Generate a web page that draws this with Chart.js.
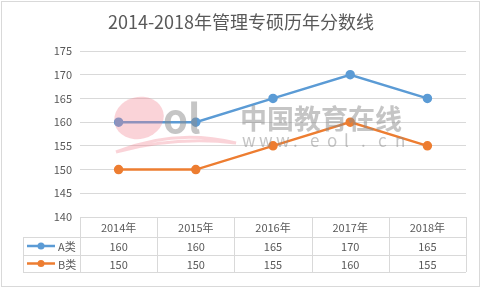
<!DOCTYPE html>
<html>
<head>
<meta charset="utf-8">
<script src="https://cdn.jsdelivr.net/npm/chart.js@4.4.0/dist/chart.umd.min.js"></script>
<style>
  html, body { margin: 0; padding: 0; background: #fff; }
  #wrap { width: 481px; height: 289px; }
</style>
</head>
<body>
<div id="wrap"><canvas id="chart" width="481" height="289"></canvas></div>
<script>
// data
var years = ["2014年", "2015年", "2016年", "2017年", "2018年"];
var seriesA = [160, 160, 165, 170, 165];
var seriesB = [150, 150, 155, 160, 155];
var seriesNames = ["A类", "B类"];
var chartTitleText = "2014-2018年管理专硕历年分数线";

var blue = "#5b9bd5";
var orange = "#ed7d31";
var textGray = "#595959";
var lineGray = "#d9d9d9";
var fontFam = "'Noto Sans CJK SC', 'Open Sans', sans-serif";

// title centred on the whole picture
var topTitle = {
  id: 'topTitle',
  afterDraw: function(chart) {
    var ctx = chart.ctx;
    ctx.save();
    ctx.fillStyle = textGray;
    ctx.font = "18px " + fontFam;
    ctx.textAlign = "center";
    ctx.textBaseline = "middle";
    ctx.fillText(chartTitleText, 241, 22);
    ctx.restore();
  }
};

// watermark drawn over the lines, semi transparent
var watermark = {
  id: 'watermark',
  afterDatasetsDraw: function(chart) {
    var ctx = chart.ctx;
    ctx.save();
    ctx.globalAlpha = 0.35;
    ctx.fillStyle = "#f08090";
    ctx.beginPath();
    ctx.ellipse(139, 118, 25, 21, -0.25, 0, Math.PI * 2);
    ctx.fill();
    ctx.beginPath();
    ctx.moveTo(116, 152);
    ctx.quadraticCurveTo(175, 128, 236, 143);
    ctx.quadraticCurveTo(175, 136, 116, 152);
    ctx.lineWidth = 3;
    ctx.strokeStyle = "#f08090";
    ctx.stroke();
    ctx.globalAlpha = 0.5;
    ctx.fillStyle = "#8c8c8c";
    ctx.font = "bold 40px " + fontFam;
    ctx.textBaseline = "middle";
    ctx.fillText("ol", 163, 118);
    ctx.font = "bold 27px " + fontFam;
    ctx.fillText("中国教育在线", 240, 119);
    ctx.font = "17px " + fontFam;
    var w = "www.eol.cn";
    for (var i = 0; i < w.length; i++) {
      ctx.fillText(w[i], 242 + i * 17, 141);
    }
    ctx.restore();
  }
};

// data table under the plot plus outer frame
var dataTable = {
  id: 'dataTable',
  afterDraw: function(chart) {
    var ctx = chart.ctx;
    var xs = chart.scales.x;
    var area = chart.chartArea;
    var n = years.length;
    var colW = (area.right - area.left) / n;
    var left = 23, top = Math.round(area.bottom), r1 = top + 20, r2 = r1 + 18, bot = r2 + 17;
    ctx.save();
    ctx.strokeStyle = lineGray;
    ctx.lineWidth = 1;
    ctx.beginPath();
    ctx.moveTo(area.left, top + 0.5); ctx.lineTo(area.right, top + 0.5);
    ctx.moveTo(left, r1 + 0.5); ctx.lineTo(area.right, r1 + 0.5);
    ctx.moveTo(left, r2 + 0.5); ctx.lineTo(area.right, r2 + 0.5);
    ctx.moveTo(left, bot + 0.5); ctx.lineTo(area.right, bot + 0.5);
    ctx.moveTo(left + 0.5, r1); ctx.lineTo(left + 0.5, bot);
    for (var i = 0; i <= n; i++) {
      var x = Math.round(area.left + i * colW) + 0.5;
      ctx.moveTo(x, top); ctx.lineTo(x, bot);
    }
    ctx.stroke();

    ctx.fillStyle = textGray;
    ctx.font = "11px " + fontFam;
    ctx.textAlign = "center";
    ctx.textBaseline = "middle";
    var rows = [seriesA, seriesB];
    for (var j = 0; j < n; j++) {
      var cx = xs.getPixelForValue(j);
      ctx.fillText(years[j], cx, (top + r1) / 2 + 1);
      ctx.fillText(String(rows[0][j]), cx, (r1 + r2) / 2 + 1);
      ctx.fillText(String(rows[1][j]), cx, (r2 + bot) / 2 + 1);
    }
    var colors = [blue, orange];
    var ys = [(r1 + r2) / 2, (r2 + bot) / 2];
    for (var k = 0; k < 2; k++) {
      ctx.strokeStyle = colors[k];
      ctx.lineWidth = 2.5;
      ctx.beginPath();
      ctx.moveTo(27, ys[k]); ctx.lineTo(55, ys[k]);
      ctx.stroke();
      ctx.fillStyle = colors[k];
      ctx.beginPath();
      ctx.arc(41, ys[k], 3.5, 0, Math.PI * 2);
      ctx.fill();
      ctx.fillStyle = textGray;
      ctx.textAlign = "left";
      ctx.fillText(seriesNames[k], 58, ys[k] + 1);
    }

    ctx.strokeStyle = lineGray;
    ctx.lineWidth = 1;
    ctx.strokeRect(1.5, 1.5, 478, 285);
    ctx.restore();
  }
};

window.onload = function() {
  var ctx = document.getElementById('chart').getContext('2d');
  window.lineChart = new Chart(ctx, {
    type: 'line',
    data: {
      labels: years,
      datasets: [{
        label: seriesNames[0],
        data: seriesA,
        borderColor: blue,
        backgroundColor: blue,
        borderWidth: 2.5,
        pointRadius: 3.5,
        tension: 0
      },
      {
        label: seriesNames[1],
        data: seriesB,
        borderColor: orange,
        backgroundColor: orange,
        borderWidth: 2.5,
        pointRadius: 3.5,
        tension: 0
      }]
    },
    plugins: [watermark, dataTable, topTitle],
    options: {
      responsive: false,
      animation: false,
      layout: {
        padding: { left: 0, right: 15, top: 51, bottom: 72 }
      },
      plugins: {
        legend: { display: false },
        tooltip: { enabled: false },
        title: { display: false }
      },
      scales: {
        x: {
          display: false,
          offset: true
        },
        y: {
          min: 140,
          max: 175,
          afterFit: function(scale) { scale.width = 80; },
          border: { display: false },
          grid: { color: lineGray, drawTicks: false },
          ticks: {
            stepSize: 5,
            padding: 8,
            color: textGray,
            font: { size: 11, family: fontFam }
          }
        }
      }
    }
  });
};
</script>
</body>
</html>
